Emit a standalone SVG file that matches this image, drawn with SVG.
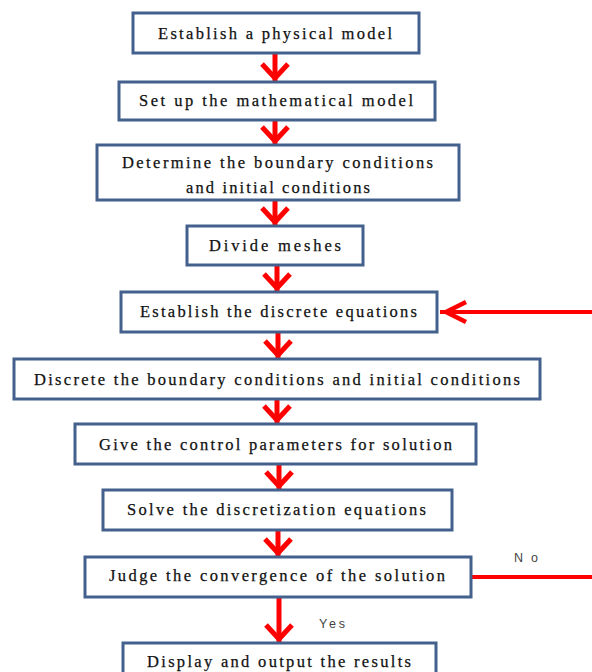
<svg xmlns="http://www.w3.org/2000/svg" width="592" height="672" viewBox="0 0 592 672">
<style>
.box{fill:#fff;stroke:#44618e;stroke-width:3}
.t{font-family:"Liberation Serif","Times New Roman",serif;font-size:16.5px;fill:#111;stroke:#111;stroke-width:0.25;text-anchor:middle}
.lbl{font-family:"Liberation Sans",Arial,sans-serif;font-size:12.5px;fill:#444;text-anchor:start}
.arr{fill:none;stroke:#ff0000;stroke-width:5}
.ln{fill:none;stroke:#ff0000;stroke-width:4}
</style>
<defs>
<marker id="chev" markerUnits="userSpaceOnUse" markerWidth="40" markerHeight="40" viewBox="-30 -20 40 40" refX="0" refY="0" orient="auto" overflow="visible">
<path d="M-18,-13 L-4,0 L-18,13" fill="none" stroke="#ff0000" stroke-width="5"/>
</marker>
<marker id="chevL" markerUnits="userSpaceOnUse" markerWidth="40" markerHeight="40" viewBox="-30 -20 40 40" refX="0" refY="0" orient="auto" overflow="visible">
<path d="M-26,-10 L-6,0 L-26,10" fill="none" stroke="#ff0000" stroke-width="4.5"/>
</marker>
</defs>
<rect width="592" height="672" fill="#fff"/>
<g id="connectors">
<line class="arr" x1="275" y1="53" x2="275" y2="82" marker-end="url(#chev)"/>
<line class="arr" x1="275" y1="120" x2="275" y2="145" marker-end="url(#chev)"/>
<line class="arr" x1="275" y1="200" x2="275" y2="226" marker-end="url(#chev)"/>
<line class="arr" x1="277" y1="265" x2="277" y2="292" marker-end="url(#chev)"/>
<line class="arr" x1="278" y1="332" x2="278" y2="359" marker-end="url(#chev)"/>
<line class="arr" x1="277" y1="399" x2="277" y2="424" marker-end="url(#chev)"/>
<line class="arr" x1="279" y1="464" x2="279" y2="490" marker-end="url(#chev)"/>
<line class="arr" x1="278" y1="530" x2="278" y2="557" marker-end="url(#chev)"/>
<line class="arr" x1="279" y1="597" x2="279" y2="643" marker-end="url(#chev)"/>
<line class="ln" x1="592" y1="312" x2="440" y2="312" marker-end="url(#chevL)"/>
<line class="ln" x1="471" y1="577" x2="592" y2="577"/>
<text class="lbl" x="514" y="562" textLength="24" lengthAdjust="spacing">No</text>
<text class="lbl" x="319" y="628" textLength="26" lengthAdjust="spacing">Yes</text>
</g>
<g id="n1"><rect class="box" x="133" y="13" width="286" height="40"/><text class="t" x="275" y="39" textLength="234" lengthAdjust="spacing">Establish a physical model</text></g>
<g id="n2"><rect class="box" x="119" y="82" width="316" height="38"/><text class="t" x="276" y="106" textLength="274" lengthAdjust="spacing">Set up the mathematical model</text></g>
<g id="n3"><rect class="box" x="97" y="145" width="362" height="55"/><text class="t" x="277.5" y="168" textLength="311" lengthAdjust="spacing">Determine the boundary conditions</text><text class="t" x="278" y="193" textLength="184" lengthAdjust="spacing">and initial conditions</text></g>
<g id="n4"><rect class="box" x="187" y="226" width="176" height="39"/><text class="t" x="275" y="251" textLength="132" lengthAdjust="spacing">Divide meshes</text></g>
<g id="n5"><rect class="box" x="121" y="292" width="316" height="40"/><text class="t" x="278.5" y="317" textLength="277" lengthAdjust="spacing">Establish the discrete equations</text></g>
<g id="n6"><rect class="box" x="14" y="359" width="526" height="40"/><text class="t" x="277" y="385" textLength="486" lengthAdjust="spacing">Discrete the boundary conditions and initial conditions</text></g>
<g id="n7"><rect class="box" x="75" y="424" width="401" height="40"/><text class="t" x="275.5" y="450" textLength="353" lengthAdjust="spacing">Give the control parameters for solution</text></g>
<g id="n8"><rect class="box" x="103" y="490" width="349" height="40"/><text class="t" x="276.5" y="515" textLength="299" lengthAdjust="spacing">Solve the discretization equations</text></g>
<g id="n9"><rect class="box" x="85" y="557" width="386" height="40"/><text class="t" x="277" y="581" textLength="336" lengthAdjust="spacing">Judge the convergence of the solution</text></g>
<g id="n10"><rect class="box" x="123" y="643" width="313" height="50"/><text class="t" x="279" y="667" textLength="264" lengthAdjust="spacing">Display and output the results</text></g>
</svg>
